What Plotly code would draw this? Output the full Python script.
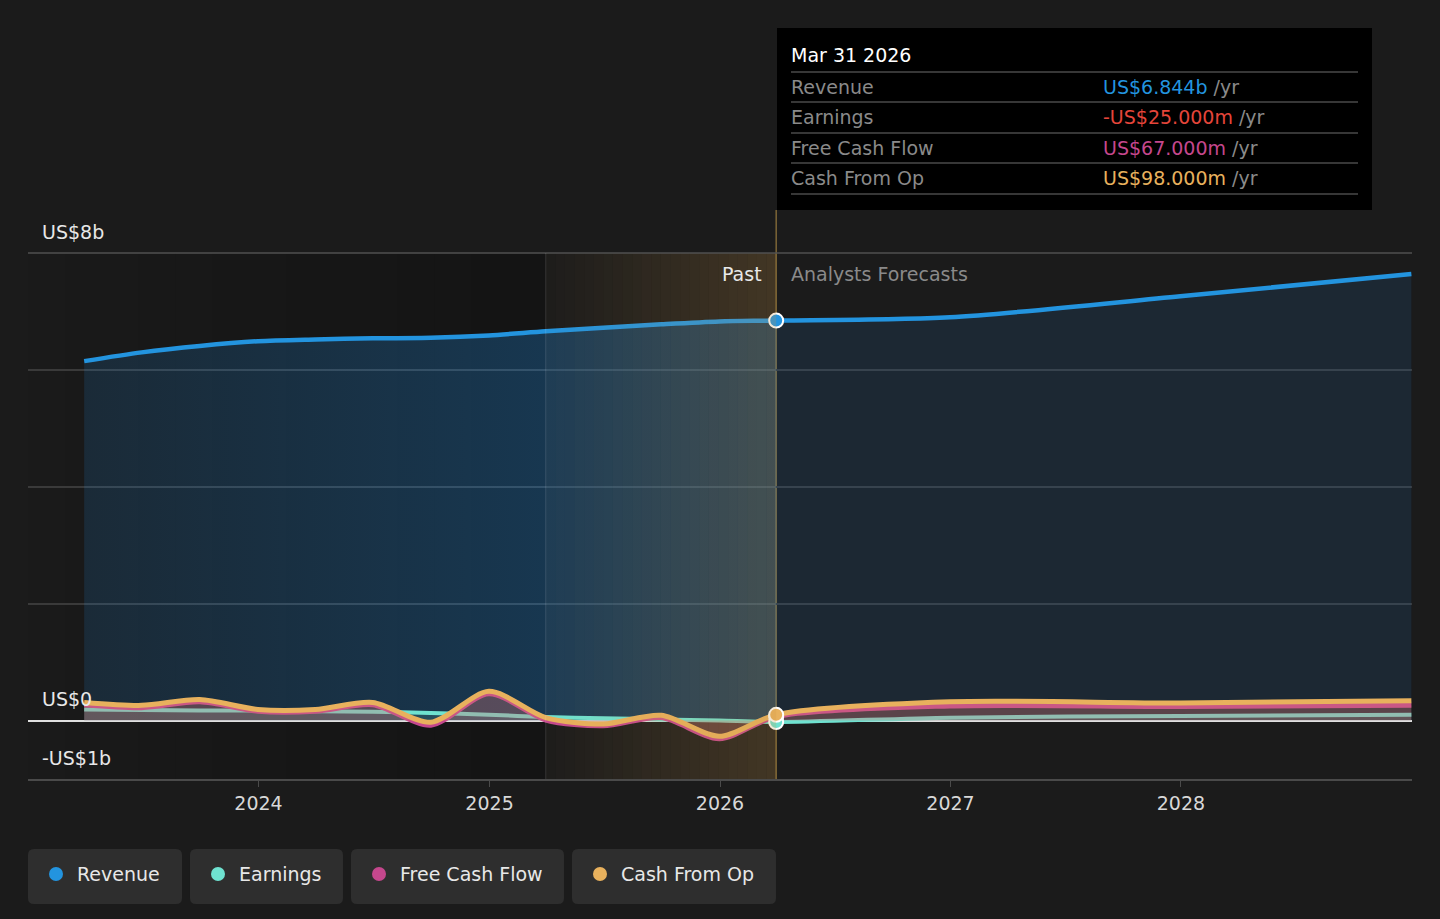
import pandas as pd
import plotly.graph_objects as go

# quarterly history and analyst forecast points (US$ billions)
past_dates = ["2023-03-31", "2023-06-30", "2023-09-30", "2023-12-31", "2024-03-31", "2024-06-30",
              "2024-09-30", "2024-12-31", "2025-03-31", "2025-06-30", "2025-09-30", "2025-12-31",
              "2026-03-31"]
fc_dates = ["2026-03-31", "2026-12-31", "2027-12-31", "2028-12-31"]

revenue_past = [6.15, 6.30, 6.41, 6.49, 6.52, 6.54, 6.55, 6.59, 6.66, 6.72, 6.78, 6.83, 6.844]
revenue_fc = [6.844, 6.90, 7.26, 7.64]
earnings_past = [0.19, 0.18, 0.17, 0.17, 0.16, 0.15, 0.13, 0.10, 0.06, 0.04, 0.02, 0.00, -0.025]
earnings_fc = [-0.025, 0.05, 0.08, 0.10]
fcf_past = [0.27, 0.22, 0.32, 0.16, 0.16, 0.27, -0.08, 0.46, 0.01, -0.09, 0.05, -0.31, 0.067]
fcf_fc = [0.067, 0.25, 0.24, 0.26]
cfo_past = [0.31, 0.26, 0.36, 0.19, 0.19, 0.31, -0.03, 0.50, 0.05, -0.06, 0.09, -0.27, 0.098]
cfo_fc = [0.098, 0.32, 0.30, 0.34]

years = ["2024", "2025", "2026", "2027", "2028"]
legend_names = ["Revenue", "Earnings", "Free Cash Flow", "Cash From Op"]
tooltip_values = ["US$6.844b", "-US$25.000m", "US$67.000m", "US$98.000m"]

REV = "#2394df"
EARN = "#6fe2d0"
FCF = "#c5478d"
CFO = "#e8b15d"
BG = "#1b1b1b"
FONT = "DejaVu Sans"

W, H = 1440, 919
L, R, T, B = 28, 1412, 253, 779  # plot area in pixels


def px(x):
    return (x - L) / (R - L)


def py(y):
    return (B - y) / (B - T)


def ms(d):
    return pd.Timestamp(d).value // 10**6


all_dates = past_dates + fc_dates[1:]

fig = go.Figure()

# revenue area, past with a horizontal gradient, forecast flat
fig.add_trace(go.Scatter(
    x=past_dates, y=revenue_past, mode="lines", line=dict(width=0, shape="spline", smoothing=0.8),
    fill="tozeroy",
    fillgradient=dict(type="horizontal", start=ms(past_dates[0]), stop=ms("2025-03-31"),
                      colorscale=[[0, "rgba(33,150,243,0.14)"], [1, "rgba(33,150,243,0.27)"]]),
    hoverinfo="skip"))
fig.add_trace(go.Scatter(
    x=fc_dates, y=revenue_fc, mode="lines", line=dict(width=0, shape="spline", smoothing=0.8),
    fill="tozeroy", fillcolor="rgba(33,150,243,0.11)", hoverinfo="skip"))
fig.add_trace(go.Scatter(
    x=all_dates, y=revenue_past + revenue_fc[1:], mode="lines",
    line=dict(color=REV, width=4.5, shape="spline", smoothing=0.8), name="Revenue"))

series = [
    (earnings_past + earnings_fc[1:], EARN, "rgba(111,226,208,0.16)", 4, "Earnings"),
    (fcf_past + fcf_fc[1:], FCF, "rgba(197,71,141,0.22)", 5, "Free Cash Flow"),
    (cfo_past + cfo_fc[1:], CFO, "rgba(232,177,93,0.16)", 5, "Cash From Op"),
]
for vals, col, fillcol, w, name in series:
    fig.add_trace(go.Scatter(
        x=all_dates, y=vals, mode="lines", name=name,
        line=dict(color=col, width=w, shape="spline", smoothing=0.8),
        fill="tozeroy", fillcolor=fillcol))

# markers at the current date
for vals, col in [(revenue_past, REV), (fcf_past, FCF), (earnings_past, EARN), (cfo_past, CFO)]:
    fig.add_trace(go.Scatter(
        x=[past_dates[-1]], y=[vals[-1]], mode="markers",
        marker=dict(color=col, size=14, line=dict(color="white", width=2)), hoverinfo="skip"))

shapes = []
# darker backdrop over the history
n = 14
start = pd.Timestamp("2023-01-01")
split = pd.Timestamp("2025-03-31")
now = pd.Timestamp("2026-03-31")
for i in range(n):
    a = start + (split - start) * i / n
    b = start + (split - start) * (i + 1) / n
    shapes.append(dict(type="rect", xref="x", yref="paper", x0=a, x1=b, y0=0, y1=1,
                       fillcolor="rgba(0,0,0,%.3f)" % (0.03 + 0.24 * i / n), line=dict(width=0),
                       layer="below"))
# brownish gradient for the last year before the forecast
n = 24
for i in range(n):
    a = split + (now - split) * i / n
    b = split + (now - split) * (i + 1) / n
    shapes.append(dict(type="rect", xref="x", yref="paper", x0=a, x1=b, y0=0, y1=1,
                       fillcolor="rgba(205,150,70,%.3f)" % (0.02 + 0.21 * i / n), line=dict(width=0),
                       layer="above"))
# top gridline at US$8b
shapes.append(dict(type="line", xref="paper", yref="paper", x0=0, x1=1, y0=1, y1=1,
                   line=dict(color="#505050", width=1.5), layer="above"))
shapes.append(dict(type="line", xref="x", yref="paper", x0=split, x1=split, y0=0, y1=1,
                   line=dict(color="rgba(255,255,255,0.13)", width=1)))
shapes.append(dict(type="line", xref="x", yref="paper", x0=now, x1=now, y0=0, y1=py(210),
                   line=dict(color="#7d6637", width=1.5), layer="below"))

# tooltip box
shapes.append(dict(type="rect", xref="paper", yref="paper", x0=px(777), x1=px(1372),
                   y0=py(210), y1=py(28), fillcolor="#000000", line=dict(width=0), layer="above"))
for sy in [72, 102, 133, 163, 194]:
    shapes.append(dict(type="line", xref="paper", yref="paper", x0=px(791), x1=px(1358),
                       y0=py(sy), y1=py(sy), line=dict(color="#4a4a4a", width=1.5), layer="above"))


def rounded(x0, y0, x1, y1, r=6):
    rx = r / (R - L)
    ry = r / (B - T)
    a0, a1 = px(x0), px(x1)
    b0, b1 = py(y1), py(y0)
    return ("M %f,%f L %f,%f Q %f,%f %f,%f L %f,%f Q %f,%f %f,%f L %f,%f Q %f,%f %f,%f "
            "L %f,%f Q %f,%f %f,%f Z" % (
                a0 + rx, b0, a1 - rx, b0, a1, b0, a1, b0 + ry, a1, b1 - ry, a1, b1, a1 - rx, b1,
                a0 + rx, b1, a0, b1, a0, b1 - ry, a0, b0 + ry, a0, b0, a0 + rx, b0))


annotations = []


def label(x, y, text, color, anchor="left"):
    # annotations carry ~2px of padding, so nudge to line up with the pixel guide
    shift = -2 if anchor == "left" else 2
    annotations.append(dict(xref="paper", yref="paper", x=px(x + shift), y=py(y), text=text,
                            showarrow=False, xanchor=anchor, yanchor="middle",
                            font=dict(size=19, color=color, family=FONT)))


legend_boxes = [(28, 182), (190, 343), (351, 564), (572, 776)]
for (x0, x1), name, col in zip(legend_boxes, legend_names, [REV, EARN, FCF, CFO]):
    shapes.append(dict(type="path", xref="paper", yref="paper", path=rounded(x0, 849, x1, 904),
                       fillcolor="#2e2e2e", line=dict(width=0)))
    shapes.append(dict(type="circle", xref="paper", yref="paper", x0=px(x0 + 21), x1=px(x0 + 35),
                       y0=py(881), y1=py(867), fillcolor=col, line=dict(width=0)))
    label(x0 + 49, 874, name, "#e8e8e8")

# tooltip text
label(791, 55, "Mar 31 2026", "#ffffff")
for ty, name, val, col in zip([87, 117, 148, 178], legend_names, tooltip_values,
                              [REV, "#e5453a", FCF, CFO]):
    label(791, ty, name, "#8a8a8a")
    label(1103, ty, "<span style='color:%s'>%s</span> /yr" % (col, val), "#8a8a8a")

# y labels and period labels
for ty, txt in [(232, "US$8b"), (699, "US$0"), (758, "-US$1b")]:
    label(42, ty, txt, "#e8e8e8")
label(762, 274, "Past", "#e8e8e8", anchor="right")
label(791, 274, "Analysts Forecasts", "#8a8a8a")

fig.update_layout(
    width=W, height=H, autosize=False,
    margin=dict(l=L, r=W - R, t=T, b=H - B, pad=0),
    paper_bgcolor=BG, plot_bgcolor=BG,
    showlegend=False,
    font=dict(family=FONT, size=19, color="#d8d8d8"),
    shapes=shapes, annotations=annotations,
    xaxis=dict(range=["2023-01-01", "2029-01-01"], tickvals=[y + "-01-01" for y in years],
               ticktext=years, showgrid=False, zeroline=False, showline=True,
               linecolor="#4a4a4a", linewidth=1.5, ticks="outside", ticklen=6, tickcolor="#4a4a4a",
               tickfont=dict(size=19, color="#d8d8d8")),
    yaxis=dict(range=[-1, 8], tick0=0, dtick=2, showticklabels=False, showgrid=True,
               gridcolor="#3a3a3a", gridwidth=1.5, zeroline=True, zerolinecolor="#e0e0e0",
               zerolinewidth=2),
)

# page has a default 8px body margin; remove it so the chart sits flush
fig.write_html("out.html", config={"displayModeBar": False},
               post_script="document.body.style.margin='0';"
                           "document.body.style.background='%s';" % BG)
